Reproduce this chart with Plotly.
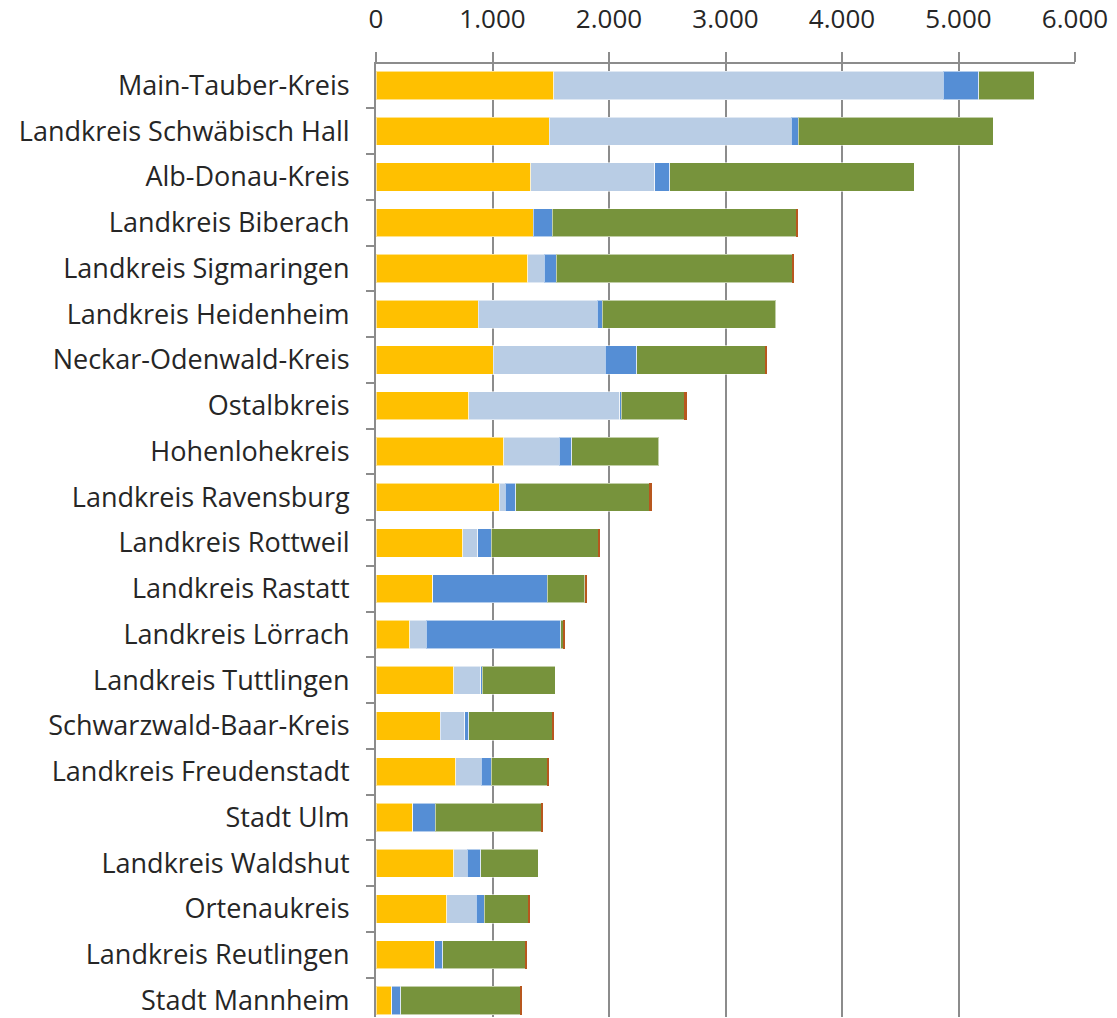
import plotly.graph_objects as go

kreise = [
    "Main-Tauber-Kreis", "Landkreis Schwäbisch Hall", "Alb-Donau-Kreis",
    "Landkreis Biberach", "Landkreis Sigmaringen", "Landkreis Heidenheim",
    "Neckar-Odenwald-Kreis", "Ostalbkreis", "Hohenlohekreis",
    "Landkreis Ravensburg", "Landkreis Rottweil", "Landkreis Rastatt",
    "Landkreis Lörrach", "Landkreis Tuttlingen", "Schwarzwald-Baar-Kreis",
    "Landkreis Freudenstadt", "Stadt Ulm", "Landkreis Waldshut",
    "Ortenaukreis", "Landkreis Reutlingen", "Stadt Mannheim",
]

# segment values (stacked left to right)
reihe_1 = [1527, 1486, 1329, 1349, 1303, 877, 1006, 797, 1097, 1057, 743,
           486, 291, 669, 551, 683, 314, 669, 606, 503, 134]
reihe_2 = [3343, 2077, 1062, 0, 143, 1023, 960, 1297, 477, 52, 131,
           0, 140, 231, 209, 220, 0, 114, 254, 0, 0]
reihe_3 = [303, 63, 132, 162, 103, 40, 271, 12, 106, 91, 117,
           983, 1155, 11, 37, 88, 195, 117, 69, 71, 77]
reihe_4 = [478, 1673, 2098, 2095, 2028, 1491, 1106, 545, 749, 1151, 923,
           322, 25, 626, 714, 480, 914, 491, 380, 706, 1029]
reihe_5 = [0, 0, 0, 11, 12, 0, 11, 15, 0, 15, 12,
           18, 15, 0, 12, 15, 11, 0, 8, 9, 11]

serien = [
    ("Reihe 1", reihe_1, "#FFC000"),
    ("Reihe 2", reihe_2, "#B9CDE5"),
    ("Reihe 3", reihe_3, "#558ED5"),
    ("Reihe 4", reihe_4, "#77933C"),
    ("Reihe 5", reihe_5, "#B8571E"),
]

fig = go.Figure()
for name, vals, col in serien:
    lw = 0 if name == "Reihe 5" else 1
    fig.add_trace(go.Bar(
        y=kreise, x=vals, name=name, orientation="h",
        marker=dict(color=col, line=dict(color="rgba(255,255,255,0.55)", width=lw)),
    ))

fig.update_layout(
    barmode="stack", bargap=0.38,
    width=1117, height=1018,
    margin=dict(l=376, r=42, t=59, b=0),
    paper_bgcolor="white", plot_bgcolor="white",
    showlegend=False,
    separators=",.",
    font=dict(family="Open Sans", size=27, color="#262626"),
)
fig.update_xaxes(
    side="top", range=[0, 6000], dtick=1000, tickformat=",d",
    showgrid=True, gridcolor="#8C8C8C", gridwidth=2,
    showline=True, linecolor="#8C8C8C", linewidth=2,
    ticks="outside", ticklen=10, tickwidth=2, tickcolor="#8C8C8C",
    ticklabelstandoff=14, zeroline=False, tickfont=dict(size=26),
)
fig.update_yaxes(
    range=[20.36, -0.47], tickson="boundaries",
    showline=True, linecolor="#8C8C8C", linewidth=2,
    ticks="outside", ticklen=8, tickwidth=2, tickcolor="#8C8C8C",
    ticklabelstandoff=19, showgrid=False,
)

# the page has a default 8px body margin; remove it so the figure sits at 0,0
fig.write_html("out.html", config={"displayModeBar": False},
               post_script="document.body.style.margin='0';")
